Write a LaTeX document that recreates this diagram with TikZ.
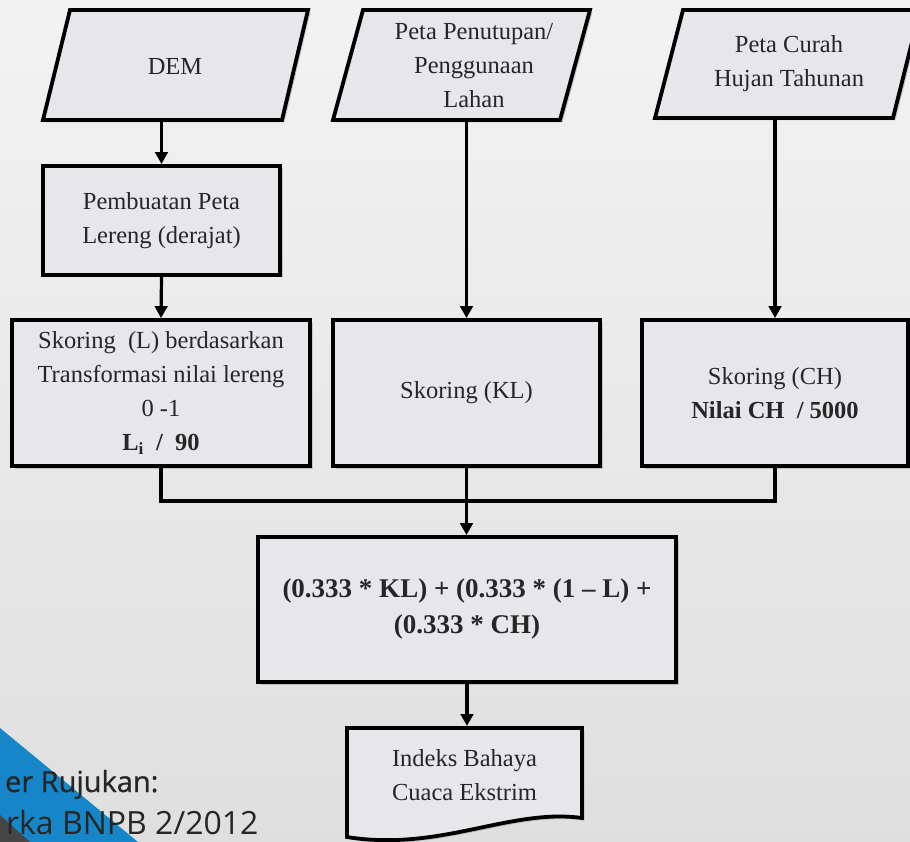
\documentclass[tikz,border=0pt]{standalone}
\usepackage{fontspec}
\setmainfont{Liberation Serif}
\newfontfamily\slidefont{Open Sans}
\newfontfamily\slidefontmed{Open Sans}[FakeBold=0.8]
\usetikzlibrary{arrows.meta,shadows}

\definecolor{boxfill}{RGB}{230,230,235}
\definecolor{slideblue}{RGB}{22,134,201}

\tikzset{
  flowtext/.style={text=black!85, font=\fontsize{24.5}{34}\selectfont, align=center},
  shade box/.style={drop shadow={shadow xshift=2.5pt, shadow yshift=-2.5pt, opacity=0.35}},
  procbox/.style={rectangle, draw, line width=3.8pt, fill=boxfill, flowtext, shade box, inner sep=0pt},
  inmap/.style={draw, line width=3.8pt, fill=boxfill, shade box, line join=miter},
  flow/.style={line width=3.2pt, -{Triangle[length=12pt,width=12.5pt]}},
  joinline/.style={line width=3.2pt},
  srcline/.style={anchor=base east, text=black!85},
}

\begin{document}
\begin{tikzpicture}[x=1pt, y=-1pt]
  % Background
  \useasboundingbox (0,0) rectangle (910,842);
  \clip (0,0) rectangle (910,842);
  \shade[top color=gray!10, bottom color=gray!25] (0,0) rectangle (910,842);

  % Input maps (parallelograms)
  \draw[inmap] (70,10) -- (308,10) -- (282,120) -- (43,120) -- cycle;
  \draw[inmap] (363,10) -- (590,10) -- (560,120) -- (333,120) -- cycle;
  \draw[inmap] (683,10) -- (920,10) -- (893,118) -- (655,118) -- cycle;
  \node[flowtext] (dem) at (175,67) {DEM};
  \node[flowtext] (lc) at (474,66) {Peta Penutupan/\\Penggunaan\\Lahan};
  \node[flowtext] (rain) at (789,64) {Peta Curah\\Hujan Tahunan};
  \coordinate (demb) at (161.5,120);
  \coordinate (lcb) at (466.5,120);
  \coordinate (rainb) at (775,118);

  % Processing and scoring
  \node[procbox, minimum width=237pt, minimum height=109pt] (slope) at (161.5,220.5)
    {Pembuatan Peta\\Lereng (derajat)};
  \node[procbox, minimum width=298pt, minimum height=146pt] (scoreL) at (161,393)
    {Skoring\ \ (L) berdasarkan\\Transformasi nilai lereng\\0 -1\\\textbf{L\textsubscript{i}\ \ /\ \ 90}};
  \node[procbox, minimum width=267pt, minimum height=146pt] (scoreKL) at (466.5,393) {Skoring (KL)};
  \node[procbox, minimum width=266pt, minimum height=146pt] (scoreCH) at (775,393)
    {Skoring (CH)\\\textbf{Nilai CH\ \ /\ 5000}};

  % Weighted sum
  \node[procbox, minimum width=418pt, minimum height=145pt,
    font=\fontsize{27}{36}\selectfont] (index) at (467,609.5)
    {\textbf{(0.333 * KL) + (0.333 * (1 -- L) +}\\\textbf{(0.333 * CH)}};

  % Output document
  \draw[inmap] (347,728) -- (582,728) -- (582,818)
    .. controls (510,808) and (440,852) .. (347,837) -- cycle;
  \node[flowtext] (out) at (464.5,775.5) {Indeks Bahaya\\Cuaca Ekstrim};
  \coordinate (outtop) at (464.5,726);

  % Arrows
  \draw[flow] (demb) -- (slope.north);
  \draw[flow] (slope.south) -- (scoreL.north);
  \draw[flow] (lcb) -- (scoreKL.north);
  \draw[flow] (rainb) -- (scoreCH.north);

  % Joining the three scores
  \coordinate (join) at (466.5,501);
  \draw[joinline] (scoreL.south) -- (scoreL.south |- join) -- (scoreCH.south |- join) -- (scoreCH.south);
  \draw[flow] (scoreKL.south) -- (scoreKL.south |- index.north);
  \draw[flow] (index.south) -- (index.south |- outtop);

  % Slide corner
  \fill[slideblue] (0,728) -- (138,842) -- (0,842) -- cycle;
  \fill[gray!55!black] (0,815) -- (30,842) -- (0,842) -- cycle;
  \node[srcline, font=\slidefontmed\fontsize{29}{34}\selectfont] (src1) at (162,792) {er Rujukan:};
  \node[srcline, font=\slidefont\fontsize{32}{38}\selectfont] (src2) at (262,834) {rka BNPB 2/2012};
\end{tikzpicture}
\end{document}
